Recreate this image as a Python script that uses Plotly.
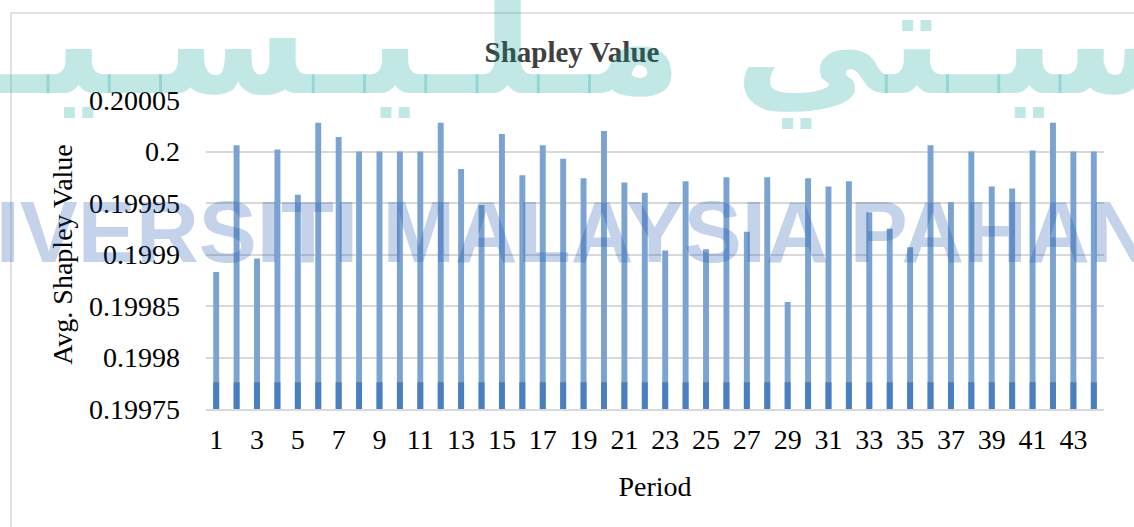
import plotly.graph_objects as go

# ---- data ----
periods = list(range(1, 45))
avg_shapley = [
    0.199883, 0.200006, 0.199896, 0.200002, 0.199958, 0.200028, 0.200014, 0.200000,
    0.200000, 0.200000, 0.200000, 0.200028, 0.199983, 0.199948, 0.200017, 0.199977,
    0.200006, 0.199993, 0.199974, 0.200020, 0.199970, 0.199960, 0.199904, 0.199971,
    0.199905, 0.199975, 0.199922, 0.199975, 0.199854, 0.199974, 0.199966, 0.199971,
    0.199941, 0.199925, 0.199907, 0.200006, 0.199951, 0.200000, 0.199966, 0.199964,
    0.200001, 0.200028, 0.200000, 0.200000,
]
base_band = [0.199776] * len(periods)

y_tickvals = [0.19975, 0.1998, 0.19985, 0.1999, 0.19995, 0.2, 0.20005]
y_ticktext = ["0.19975", "0.1998", "0.19985", "0.1999", "0.19995", "0.2", "0.20005"]
x_tickvals = list(range(1, 44, 2))
x_ticktext = [str(v) for v in x_tickvals]

title_text = "Shapley Value"
x_title = "Period"
y_title = "Avg. Shapley Value"
watermark_latin = "UNIVERSITI MALAYSIA PAHANG"
watermark_jawi = "اونيـۏرسيـتي مـلـيـسـيـا ڤـهـڠ"

# ---- layout geometry ----
W, H = 1134, 527
L, R, T, B = 206, 30, 100, 118
PW, PH = W - L - R, H - T - B


def px_to_paper_x(px):
    return (px - L) / PW


def px_to_paper_y(py):
    return (H - B - py) / PH


SERIF = "Liberation Serif"

fig = go.Figure()
fig.add_trace(go.Bar(
    x=periods, y=avg_shapley, width=0.29,
    marker=dict(color="#7BA3D1", line=dict(width=0)),
    name="Avg. Shapley Value", showlegend=False,
))
fig.add_trace(go.Bar(
    x=periods, y=base_band, width=0.29,
    marker=dict(color="#4A7FBF", line=dict(width=0)),
    showlegend=False, hoverinfo="skip",
))

fig.update_layout(
    width=W, height=H,
    margin=dict(l=L, r=R, t=T, b=B),
    paper_bgcolor="white", plot_bgcolor="white",
    barmode="overlay",
    showlegend=False,
    title=dict(
        text="<b>" + title_text + "</b>",
        font=dict(family=SERIF, size=29, color="#404040"),
        x=572 / W, xanchor="center", xref="container",
        y=1 - 52 / H, yanchor="middle",
    ),
    xaxis=dict(
        range=[0.5, 44.5],
        tickvals=x_tickvals, ticktext=x_ticktext,
        tickfont=dict(family=SERIF, size=28, color="black"),
        ticks="", ticklabelstandoff=5,
        showgrid=False, zeroline=False,
        showline=True, linecolor="#D9D9D9", linewidth=1.5,
        title=dict(text=x_title, font=dict(family=SERIF, size=28, color="black"), standoff=22),
    ),
    yaxis=dict(
        range=[0.19975, 0.20005],
        tickvals=y_tickvals, ticktext=y_ticktext,
        tickfont=dict(family=SERIF, size=28, color="black"),
        ticks="", ticklabelstandoff=25,
        showgrid=True, gridcolor="#D9D9D9", gridwidth=1.5,
        zeroline=False, showline=False,
        title=dict(text=y_title, font=dict(family=SERIF, size=28, color="black"), standoff=8),
    ),
)

# chart border (top and left edges visible)
fig.add_shape(
    type="rect", xref="paper", yref="paper",
    x0=px_to_paper_x(11), x1=px_to_paper_x(W + 20),
    y0=px_to_paper_y(H + 20), y1=px_to_paper_y(13),
    line=dict(color="#D9D9D9", width=1.5), fillcolor="rgba(0,0,0,0)", layer="below",
)

# watermarks
fig.add_annotation(
    text="<b>" + watermark_jawi + "</b>", xref="paper", yref="paper",
    x=px_to_paper_x(590), y=px_to_paper_y(42), xanchor="center", yanchor="middle",
    showarrow=False, font=dict(family="DejaVu Sans", size=150, color="rgba(0,160,150,0.24)"),
)
fig.add_annotation(
    text="<b>" + watermark_latin + "</b>", xref="paper", yref="paper",
    x=px_to_paper_x(545), y=px_to_paper_y(231), xanchor="center", yanchor="middle",
    showarrow=False, font=dict(family="Liberation Sans", size=87,
                               color="rgba(20,80,170,0.25)"),
)

fig.write_html("out.html")
